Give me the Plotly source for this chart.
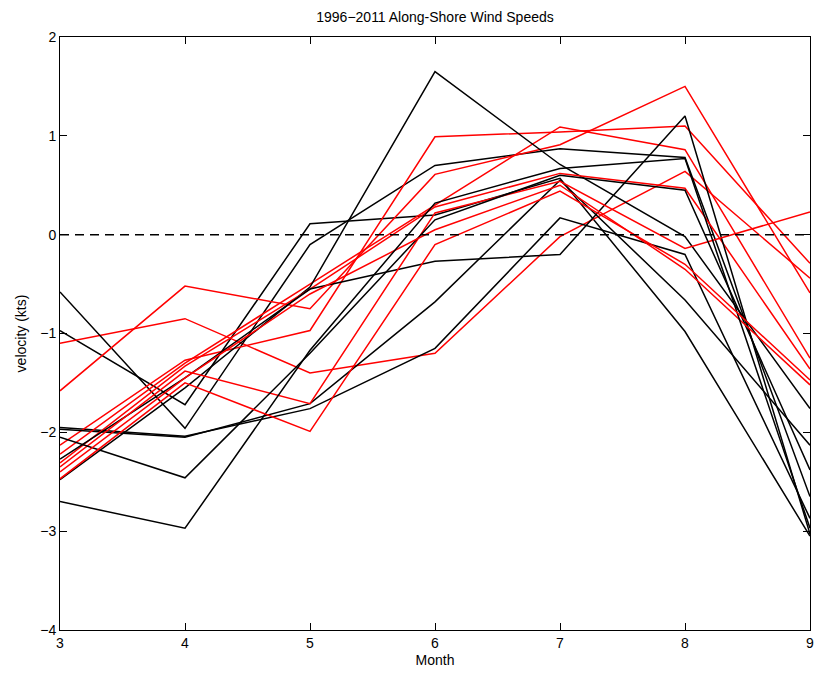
import plotly.graph_objects as go

months = [3, 4, 5, 6, 7, 8, 9]

black_series = [
    [-0.97, -1.72, 0.11, 0.20, 0.57, -0.98, -3.05],
    [-0.58, -1.96, -0.10, 0.70, 0.87, 0.78, -2.65],
    [-1.95, -2.04, -1.76, -1.15, 0.17, -0.20, -2.87],
    [-1.97, -2.05, -1.71, -0.68, 0.55, -0.66, -2.13],
    [-2.48, -1.55, -0.53, 1.65, 0.71, -0.02, -1.76],
    [-2.27, -1.45, -0.55, -0.27, -0.20, 1.20, -3.03],
    [-2.05, -2.46, -1.20, 0.15, 0.60, 0.45, -2.38],
    [-2.70, -2.97, -1.17, 0.32, 0.67, 0.77, -2.97],
]

red_series = [
    [-1.10, -0.85, -1.40, -1.20, -0.02, 0.64, -0.44],
    [-1.58, -0.52, -0.75, 0.61, 0.91, 1.50, -0.59],
    [-2.13, -1.27, -0.97, 0.99, 1.04, 1.10, -0.29],
    [-2.22, -1.30, -0.50, 0.30, 1.09, 0.86, -1.25],
    [-2.31, -1.33, -0.55, 0.28, 0.62, 0.47, -1.36],
    [-2.35, -1.38, -1.71, 0.22, 0.54, -0.14, 0.23],
    [-2.40, -1.45, -0.60, 0.05, 0.50, -0.35, -1.52],
    [-2.47, -1.50, -1.99, -0.10, 0.44, -0.30, -1.47],
]

zero_x = [3, 9]
zero_y = [0, 0]

x_ticks = [3, 4, 5, 6, 7, 8, 9]
y_ticks = [-4, -3, -2, -1, 0, 1, 2]

fig = go.Figure()

for b, r in zip(black_series, red_series):
    fig.add_trace(go.Scatter(x=months, y=b, mode="lines",
                             line=dict(color="black", width=1.5), showlegend=False))
    fig.add_trace(go.Scatter(x=months, y=r, mode="lines",
                             line=dict(color="#ff0000", width=1.5), showlegend=False))

fig.add_trace(go.Scatter(x=zero_x, y=zero_y, mode="lines",
                         line=dict(color="black", width=1.5, dash="9px,6px"),
                         showlegend=False))

font_family = "Liberation Sans, Arial, Helvetica, sans-serif"

fig.update_layout(
    width=817, height=679,
    margin=dict(l=60, r=7, t=37, b=49, autoexpand=False),
    paper_bgcolor="white", plot_bgcolor="white",
    font=dict(family=font_family, size=14, color="black"),
    title=dict(text="1996\u22122011 Along-Shore Wind Speeds", x=0.5, xanchor="center",
               xref="paper", y=1, yref="container", yanchor="top", pad=dict(t=12),
               font=dict(family=font_family, size=14, color="black")),
)

fig.update_xaxes(range=[3, 9], tickvals=x_ticks, ticktext=[str(v) for v in x_ticks],
                 ticks="inside", ticklen=7, tickwidth=1, tickcolor="black",
                 showline=True, linecolor="black", linewidth=1, mirror="ticks",
                 showgrid=False, zeroline=False, ticklabeloverflow="allow",
                 automargin=False,
                 title=dict(text="Month", standoff=5, font=dict(size=14)),
                 tickfont=dict(size=14))
fig.update_yaxes(range=[-4, 2], tickvals=y_ticks,
                 ticks="inside", ticklen=7, tickwidth=1, tickcolor="black",
                 showline=True, linecolor="black", linewidth=1, mirror="ticks",
                 showgrid=False, zeroline=False, ticklabeloverflow="allow",
                 automargin=False,
                 title=dict(text="velocity (kts)", standoff=10, font=dict(size=14)),
                 tickfont=dict(size=14))

fig.write_html("out.html", config={"displayModeBar": False},
               post_script="document.body.style.margin='0';document.body.style.overflow='hidden';")
